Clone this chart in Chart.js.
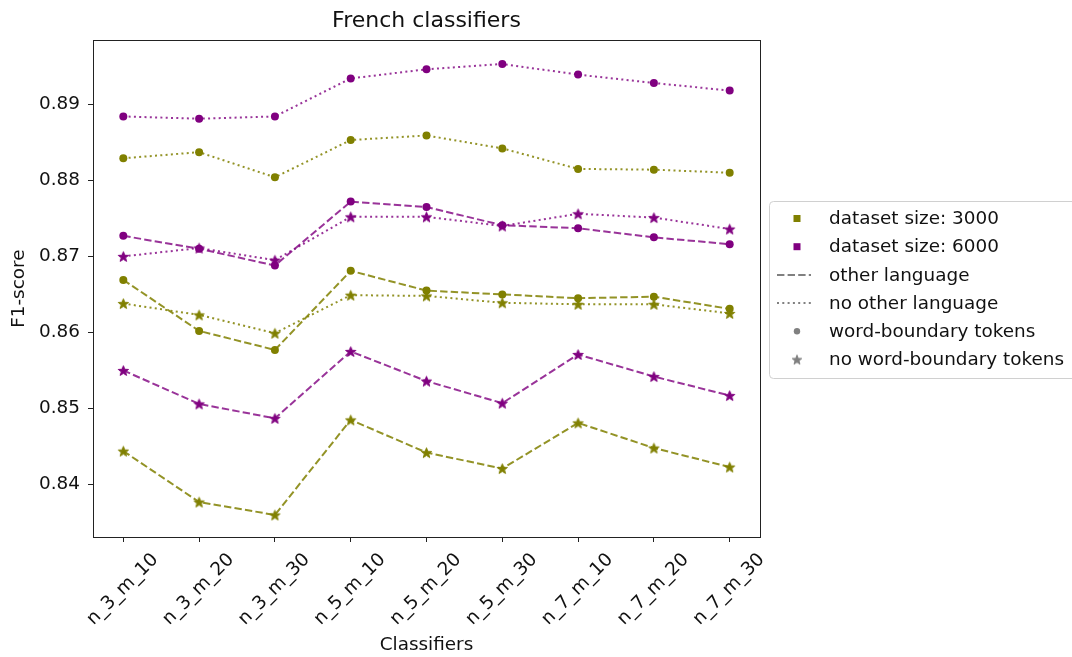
<!DOCTYPE html>
<html>
<head>
<meta charset="utf-8">
<script src="https://cdn.jsdelivr.net/npm/chart.js@4/dist/chart.umd.min.js"></script>
<style>
  html, body { margin: 0; padding: 0; background: #fff; }
</style>
</head>
<body>
<canvas id="chart" width="1072" height="657"></canvas>
<script>
const classifiers = ['n_3_m_10', 'n_3_m_20', 'n_3_m_30', 'n_5_m_10', 'n_5_m_20', 'n_5_m_30', 'n_7_m_10', 'n_7_m_20', 'n_7_m_30'];
const yTicks = [0.84, 0.85, 0.86, 0.87, 0.88, 0.89];

// dataset size 3000
const size3000_other_wb = [0.8669, 0.8602, 0.8577, 0.8681, 0.8655, 0.8650, 0.8645, 0.8647, 0.8631];
const size3000_other_nowb = [0.8444, 0.8377, 0.8360, 0.8485, 0.8442, 0.8421, 0.8481, 0.8448, 0.8423];
const size3000_noother_wb = [0.8829, 0.8837, 0.8804, 0.8853, 0.8859, 0.8842, 0.8815, 0.8814, 0.8810];
const size3000_noother_nowb = [0.8638, 0.8623, 0.8599, 0.8649, 0.8648, 0.8639, 0.8637, 0.8637, 0.8625];

// dataset size 6000
const size6000_other_wb = [0.8727, 0.8710, 0.8688, 0.8772, 0.8765, 0.8741, 0.8737, 0.8725, 0.8716];
const size6000_other_nowb = [0.8550, 0.8506, 0.8487, 0.8575, 0.8536, 0.8507, 0.8571, 0.8542, 0.8517];
const size6000_noother_wb = [0.8884, 0.8881, 0.8884, 0.8934, 0.8946, 0.8953, 0.8939, 0.8928, 0.8918];
const size6000_noother_nowb = [0.8700, 0.8711, 0.8695, 0.8752, 0.8752, 0.8740, 0.8756, 0.8751, 0.8736];

const OLIVE = '#808000';
const PURPLE = '#800080';
const FONT = 'DejaVu Sans';
const DASHED = [7.4, 3.2];
const DOTTED = [2, 3.3];

const makeStar = (color, r) => {
    const c = document.createElement('canvas');
    const size = Math.ceil(r * 2 + 4);
    c.width = size;
    c.height = size;
    const ctx = c.getContext('2d');
    ctx.fillStyle = color;
    ctx.strokeStyle = color;
    ctx.lineWidth = 1;
    ctx.lineJoin = 'round';
    ctx.beginPath();
    for (let k = 0; k < 10; k++) {
        const rad = k % 2 === 0 ? r : r * 0.42;
        const a = -Math.PI / 2 + k * Math.PI / 5;
        const px = size / 2 + rad * Math.cos(a);
        const py = size / 2 + 0.6 + rad * Math.sin(a);
        if (k === 0) ctx.moveTo(px, py); else ctx.lineTo(px, py);
    }
    ctx.closePath();
    ctx.fill();
    ctx.stroke();
    return c;
};

const starOlive = makeStar(OLIVE, 5.4);
const starPurple = makeStar(PURPLE, 5.4);
const starGray = makeStar('#808080', 5.0);

const lineColor = (c) => c === OLIVE ? 'rgba(128,128,0,0.85)' : 'rgba(128,0,128,0.8)';

const makeSet = (values, color, dash, star) => ({
    data: values.map((v, i) => ({ x: i, y: v })),
    borderColor: lineColor(color),
    borderWidth: 2,
    borderDash: dash,
    backgroundColor: color,
    pointStyle: star ? (color === OLIVE ? starOlive : starPurple) : 'circle',
    pointRadius: star ? 6 : 4,
    pointBorderWidth: 0,
    pointBackgroundColor: color,
    tension: 0,
    fill: false
});

const legendItems = [
    { kind: 'square', color: OLIVE, text: 'dataset size: 3000' },
    { kind: 'square', color: PURPLE, text: 'dataset size: 6000' },
    { kind: 'dashed', color: '#808080', text: 'other language' },
    { kind: 'dotted', color: '#808080', text: 'no other language' },
    { kind: 'circle', color: '#808080', text: 'word-boundary tokens' },
    { kind: 'star', color: '#808080', text: 'no word-boundary tokens' }
];

const framePlugin = {
    id: 'frame',
    afterDatasetsDraw(chart) {
        const { ctx, chartArea: a } = chart;
        ctx.save();
        ctx.strokeStyle = '#222';
        ctx.lineWidth = 1;
        ctx.strokeRect(Math.round(a.left) + 0.5, Math.round(a.top) + 0.5, Math.round(a.right - a.left), Math.round(a.bottom - a.top));
        ctx.restore();
    }
};

const legendPlugin = {
    id: 'sideLegend',
    afterDraw(chart) {
        const ctx = chart.ctx;
        const bx = 769.5, by = 201.5, bw = 310, bh = 177;
        ctx.save();
        ctx.fillStyle = 'rgba(255,255,255,0.8)';
        ctx.strokeStyle = '#d0d0d0';
        ctx.lineWidth = 1;
        ctx.beginPath();
        ctx.roundRect(bx, by, bw, bh, 4);
        ctx.fill();
        ctx.stroke();

        ctx.font = `18.4px "${FONT}"`;
        ctx.textBaseline = 'middle';
        ctx.textAlign = 'left';
        legendItems.forEach((item, i) => {
            const y = 218.5 + i * 28.2;
            const hx = 797;
            ctx.fillStyle = item.color;
            ctx.strokeStyle = item.color;
            if (item.kind === 'square') {
                ctx.fillRect(hx - 3.5, y - 3.5, 7, 7);
            } else if (item.kind === 'dashed' || item.kind === 'dotted') {
                ctx.lineWidth = 2;
                ctx.setLineDash(item.kind === 'dashed' ? DASHED : DOTTED);
                ctx.beginPath();
                ctx.moveTo(777, y);
                ctx.lineTo(811, y);
                ctx.stroke();
                ctx.setLineDash([]);
            } else if (item.kind === 'circle') {
                ctx.beginPath();
                ctx.arc(hx, y, 3.2, 0, Math.PI * 2);
                ctx.fill();
            } else {
                ctx.drawImage(starGray, hx - starGray.width / 2, y - starGray.height / 2);
            }
            ctx.fillStyle = '#111';
            ctx.fillText(item.text, 829, y + 1);
        });
        ctx.restore();
    }
};

new Chart(document.getElementById('chart').getContext('2d'), {
    type: 'line',
    data: {
        datasets: [
            makeSet(size3000_other_wb, OLIVE, DASHED, false),
            makeSet(size3000_other_nowb, OLIVE, DASHED, true),
            makeSet(size3000_noother_wb, OLIVE, DOTTED, false),
            makeSet(size3000_noother_nowb, OLIVE, DOTTED, true),
            makeSet(size6000_other_wb, PURPLE, DASHED, false),
            makeSet(size6000_other_nowb, PURPLE, DASHED, true),
            makeSet(size6000_noother_wb, PURPLE, DOTTED, false),
            makeSet(size6000_noother_nowb, PURPLE, DOTTED, true)
        ]
    },
    options: {
        responsive: false,
        animation: false,
        events: [],
        layout: { padding: { top: 0, right: 312, bottom: 0, left: 0 } },
        plugins: {
            legend: { display: false },
            tooltip: { enabled: false },
            title: {
                display: true,
                text: 'French classifiers',
                fullSize: false,
                color: '#111',
                font: { family: FONT, size: 22, weight: 'normal', lineHeight: 1.2 },
                padding: { top: 8, bottom: 6 }
            }
        },
        scales: {
            x: {
                type: 'linear',
                min: -0.4,
                max: 8.4,
                afterBuildTicks: (s) => { s.ticks = classifiers.map((c, i) => ({ value: i })); },
                afterFit: (s) => { s.height = 120; },
                grid: { drawOnChartArea: false, drawTicks: true, tickLength: 5, color: '#222' },
                border: { display: true, color: '#222' },
                ticks: {
                    autoSkip: false,
                    minRotation: 45,
                    maxRotation: 45,
                    labelOffset: 32,
                    padding: 7,
                    color: '#111',
                    font: { family: FONT, size: 18.4 },
                    callback: (v) => classifiers[v]
                },
                title: {
                    display: true,
                    text: 'Classifiers',
                    color: '#111',
                    font: { family: FONT, size: 18.4, lineHeight: 1.2 },
                    padding: { top: 0, bottom: 1 }
                }
            },
            y: {
                type: 'linear',
                min: 0.8331,
                max: 0.8984,
                afterBuildTicks: (s) => { s.ticks = yTicks.map(v => ({ value: v })); },
                afterFit: (s) => { s.width = 93; },
                grid: { drawOnChartArea: false, drawTicks: true, tickLength: 5, color: '#222' },
                border: { display: true, color: '#222' },
                ticks: {
                    padding: 8,
                    color: '#111',
                    font: { family: FONT, size: 18.4 },
                    callback: (v) => v.toFixed(2)
                },
                title: {
                    display: true,
                    text: 'F1-score',
                    color: '#111',
                    font: { family: FONT, size: 18.4, lineHeight: 1.2 },
                    padding: { top: 8, bottom: 0 }
                }
            }
        }
    },
    plugins: [framePlugin, legendPlugin]
});
</script>
</body>
</html>
